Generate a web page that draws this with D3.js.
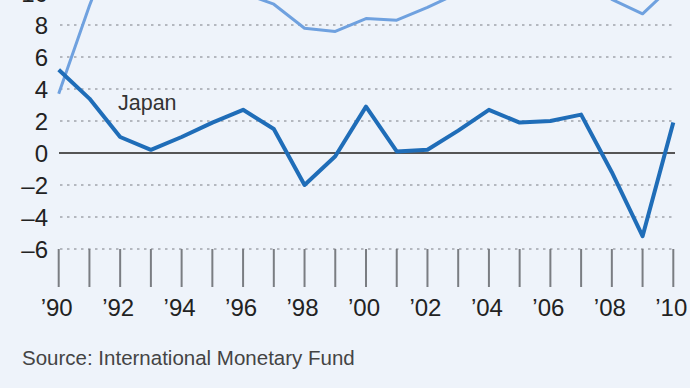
<!DOCTYPE html>
<html>
<head>
<meta charset="utf-8">
<script src="https://cdn.jsdelivr.net/npm/d3@7"></script>
<style>
  html, body { margin: 0; padding: 0; background: #eef3fa; }
  svg { display: block; font-family: "Liberation Sans", Arial, sans-serif; }
</style>
</head>
<body>
<svg id="chart"></svg>
<script>
const years = d3.range(1990, 2011);
const japan = [5.2, 3.4, 1.0, 0.2, 1.0, 1.9, 2.7, 1.5, -2.0, -0.2, 2.9, 0.1, 0.2, 1.4, 2.7, 1.9, 2.0, 2.4, -1.2, -5.2, 1.9];
const china = [3.7, 9.2, 14.2, 14.0, 13.1, 10.9, 10.0, 9.3, 7.8, 7.6, 8.4, 8.3, 9.1, 10.0, 10.1, 11.3, 12.7, 14.2, 9.6, 8.7, 10.5];
const yTicks = [-6, -4, -2, 0, 2, 4, 6, 8, 10];
const xLabelYears = [1990, 1992, 1994, 1996, 1998, 2000, 2002, 2004, 2006, 2008, 2010];
const sourceText = "Source: International Monetary Fund";

const W = 690, H = 388;
const svg = d3.select("#chart").attr("width", W).attr("height", H);

// plot runs off the top edge, like the cropped original
const x = d3.scaleLinear().domain([1990, 2010]).range([58.7, 673.3]);
const y = d3.scaleLinear().domain([-6, 10]).range([249, -7]);

// grid
svg.append("g")
    .selectAll("line")
    .data(yTicks.filter(d => d !== 0))
    .join("line")
    .attr("x1", 60).attr("x2", 676)
    .attr("y1", d => y(d)).attr("y2", d => y(d))
    .attr("stroke", "#b4b8bf")
    .attr("stroke-width", 2)
    .attr("stroke-dasharray", "2.5,4.5");

// year ticks
svg.append("g")
    .selectAll("line")
    .data(years)
    .join("line")
    .attr("x1", d => x(d)).attr("x2", d => x(d))
    .attr("y1", y(-6)).attr("y2", y(-6) + 38)
    .attr("stroke", "#7a7d82")
    .attr("stroke-width", 2);

// zero line
svg.append("line")
    .attr("x1", 59).attr("x2", 675)
    .attr("y1", y(0)).attr("y2", y(0))
    .attr("stroke", "#555")
    .attr("stroke-width", 2);

// y labels
svg.append("g")
    .selectAll("text")
    .data(yTicks)
    .join("text")
    .attr("x", 48)
    .attr("y", d => y(d))
    .attr("dy", "0.36em")
    .attr("text-anchor", "end")
    .attr("font-size", 24)
    .attr("fill", "#222")
    .text(d => d < 0 ? "\u2013" + Math.abs(d) : d);

// x labels
svg.append("g")
    .selectAll("text")
    .data(xLabelYears)
    .join("text")
    .attr("x", d => x(d) - 2)
    .attr("y", 316)
    .attr("text-anchor", "middle")
    .attr("font-size", 24)
    .attr("fill", "#222")
    .text(d => "\u2019" + String(d).slice(2));

const line = d3.line()
    .x((d, i) => x(years[i]))
    .y(d => y(d));

svg.append("path")
    .datum(china)
    .attr("fill", "none")
    .attr("stroke", "#6fa1df")
    .attr("stroke-width", 3)
    .attr("stroke-linejoin", "round")
    .attr("d", line);

svg.append("path")
    .datum(japan)
    .attr("fill", "none")
    .attr("stroke", "#1f6db8")
    .attr("stroke-width", 4)
    .attr("stroke-linejoin", "round")
    .attr("d", line);

svg.append("text")
    .attr("x", x(1991.93))
    .attr("y", y(2.7))
    .attr("font-size", 21.5)
    .attr("fill", "#333")
    .text("Japan");

svg.append("text")
    .attr("x", 22)
    .attr("y", 365)
    .attr("font-size", 20.5)
    .attr("fill", "#444")
    .text(sourceText);
</script>
</body>
</html>
